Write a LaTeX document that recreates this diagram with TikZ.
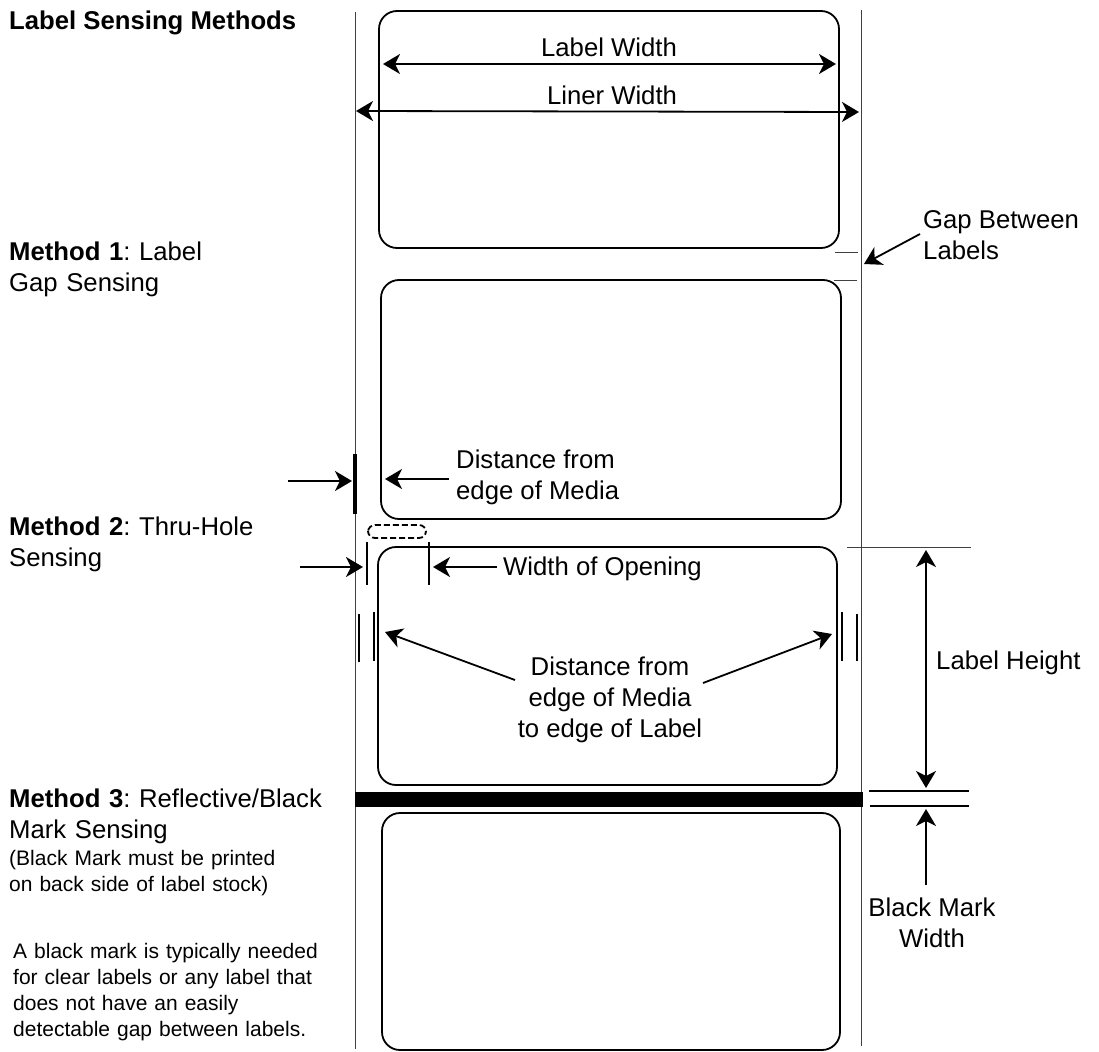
\documentclass[tikz,border=0pt]{standalone}
\usepackage{fontspec}
\setmainfont{Liberation Sans}
\usetikzlibrary{arrows.meta}
\tikzset{
  x=1pt,y=-1pt,
  labelbox/.style={draw=black,line width=1.8pt,rounded corners=18pt},
  thin line/.style={draw=black!75,line width=1pt},
  mid line/.style={draw=black,line width=1.3pt},
  dim/.style={draw=black,line width=1.8pt,-{Stealth[length=17pt,width=20pt,inset=5pt]}},
  dimboth/.style={draw=black,line width=1.8pt,{Stealth[length=17pt,width=20pt,inset=5pt]}-{Stealth[length=17pt,width=20pt,inset=5pt]}},
  big/.style={font=\fontsize{25.7}{30.7}\selectfont\frenchspacing,inner sep=0pt,align=left},
  side/.style={font=\fontsize{25.7}{31}\selectfont\frenchspacing,inner sep=0pt,align=left,anchor=base west},
  small/.style={font=\fontsize{21}{26}\selectfont\frenchspacing,inner sep=0pt,align=left,anchor=base west},
}
\begin{document}
\begin{tikzpicture}
\useasboundingbox (0,0) rectangle (1099,1051);
% media edges
\draw[thin line] (355,12) -- (355,1049);
\draw[thin line] (861,10) -- (861,1046);
% labels
\draw[labelbox] (379,11) rectangle (839,248);
\draw[labelbox] (381,280) rectangle (841,519);
\draw[labelbox] (378,547) rectangle (837,785);
\draw[labelbox] (382,813) rectangle (840,1050);
% black mark
\fill[black] (355,792) rectangle (863,807);
% left texts
\node[side] (t0) at (9,30) {\textbf{Label Sensing Methods}};
\node[side,text width=300pt] (t1) at (9,260) {\textbf{Method 1}: Label\\Gap Sensing};
\node[side,text width=300pt] (t2) at (9,535) {\textbf{Method 2}: Thru-Hole\\Sensing};
\node[side,text width=340pt] (t3) at (9,807) {\textbf{Method 3}: Reflective/Black\\Mark Sensing};
\node[small,text width=340pt] (t4) at (9,865) {(Black Mark must be printed\\on back side of label stock)};
\node[small,text width=340pt] (t5) at (13,958) {A black mark is typically needed\\for clear labels or any label that\\does not have an easily\\detectable gap between labels.};
% width dims
\coordinate (lw1) at (383,64); \coordinate (lw2) at (836,64);
\coordinate (li1) at (356,111); \coordinate (li2) at (859,112);
\draw[dimboth] (lw1) -- (lw2);
\draw[dimboth] (li1) -- (li2);
\node[big] (lwt) at (609,47) {Label Width};
\node[big] (lit) at (612,95) {Liner Width};
% gap
\draw[thin line] (835,252) -- (858,252);
\draw[thin line] (834,280) -- (857,280);
\node[big,anchor=base west] (gapt) at (923,259) {Gap Between\\Labels};
\coordinate (gap1) at (920,234); \coordinate (gap2) at (864,264);
\draw[dim] (gap1) -- (gap2);
% distance from edge
\draw[black,line width=3.2pt] (355,454) -- (355,514);
\coordinate (a1) at (288,481); \coordinate (a2) at (352,481);
\draw[dim] (a1) -- (a2);
\node[big,anchor=base west] (dt) at (456,499) {Distance from\\edge of Media};
\coordinate (a3) at (449,479); \coordinate (a4) at (385,479);
\draw[dim] (a3) -- (a4);
% opening
\draw[black,line width=1.8pt,dash pattern=on 6pt off 3pt,rounded corners=7pt] (368,525) rectangle (426,538);
\draw[mid line,line width=1.6pt] (367,542) -- (367,585);
\draw[mid line,line width=1.6pt] (429,542) -- (429,585);
\coordinate (o1) at (300,567); \coordinate (o2) at (363,567);
\draw[dim] (o1) -- (o2);
\coordinate (o3) at (497,567); \coordinate (o4) at (433,567);
\draw[dim] (o3) -- (o4);
\node[big,anchor=base west] (ot) at (503,575) {Width of Opening};
% edge marks
\draw[mid line] (359,614) -- (359,662);
\draw[mid line] (374,612) -- (374,661);
\draw[mid line] (842,612) -- (842,661);
\draw[mid line] (857,614) -- (857,661);
\node[big,anchor=base,align=center] (mt) at (610,737) {Distance from\\edge of Media\\to edge of Label};
\coordinate (m1) at (515,680); \coordinate (m2) at (385,632);
\coordinate (m3) at (703,683); \coordinate (m4) at (832,634);
\draw[dim] (m1) -- (m2);
\draw[dim] (m3) -- (m4);
% label height
\draw[thin line] (847,547) -- (971,547);
\coordinate (h1) at (926,550); \coordinate (h2) at (926,788);
\draw[dimboth] (h1) -- (h2);
\node[big,anchor=base west] (ht) at (936,669) {Label Height};
% black mark width
\draw[mid line] (869,791) -- (969,791);
\draw[mid line] (870,806) -- (969,806);
\coordinate (b1) at (926,885); \coordinate (b2) at (926,809);
\draw[dim] (b1) -- (b2);
\node[big,anchor=base,align=center] (bt) at (932,947) {Black Mark\\Width};
\end{tikzpicture}
\end{document}
